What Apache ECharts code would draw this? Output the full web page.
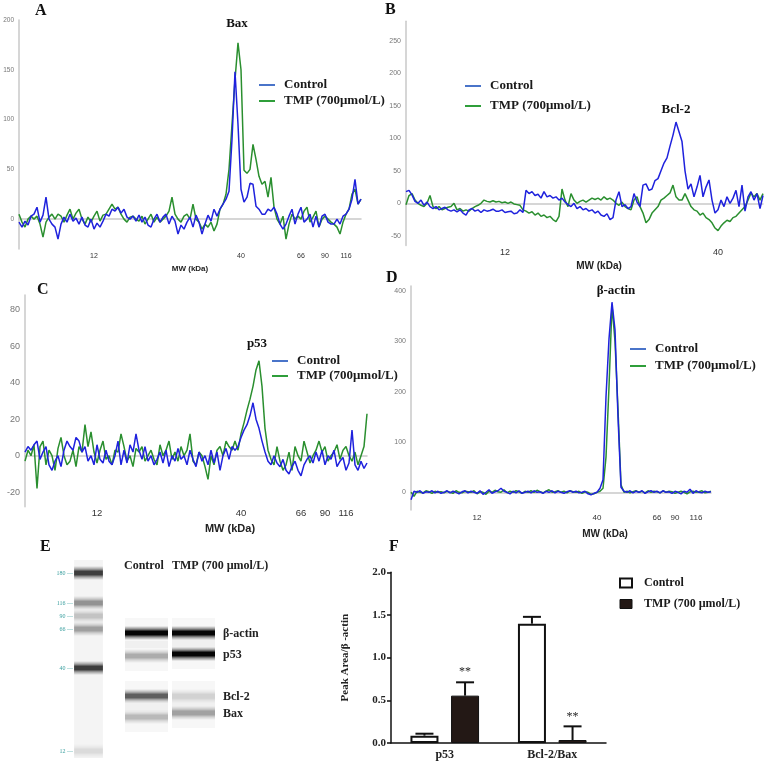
<!DOCTYPE html>
<html><head><meta charset="utf-8">
<script src="https://cdn.jsdelivr.net/npm/echarts@6/dist/echarts.min.js"></script>
<style>html,body{margin:0;padding:0;background:#fff}#c1,#c2{position:absolute;left:0;top:0;width:766px;height:766px}</style>
</head><body><div id="c1"></div><div id="c2"></div>
<script>
// ---------- DATA ----------
const seriesNames = ['Control', 'TMP (700μmol/L)'];
const mwTicks = ['12', '40', '66', '90', '116'];
const bTicks = ['12', '40'];
const aTickIdx = [25, 74, 94, 102, 109];
const bTickIdx = [33, 104];
const cTickIdx = [24, 72, 92, 100, 107];
const dTickIdx = [22, 62, 82, 88, 95];
const peakLabels = ['Bax', 'Bcl-2', 'p53', 'β-actin'];

const aControl = [-3,-8,-2,-6,3,5,12,-3,4,22,
 0,-5,-8,-20,-5,2,-3,5,-2,1,
 -5,2,-6,-8,0,-10,-4,-8,-2,5,
 3,10,8,12,6,10,2,0,3,-2,
 4,-3,2,-6,-8,0,5,-3,2,5,
 -5,3,-2,-15,-6,-10,-3,2,-8,4,
 -3,-15,-5,4,-2,10,3,10,15,20,
 28,80,148,95,30,17,22,36,35,13,
 10,5,5,10,8,12,5,-5,-10,-5,
 3,10,-5,5,12,-3,0,5,-8,3,
 -8,3,5,-3,-5,-5,0,-5,3,5,
 10,20,40,15,20];
const aTMP = [5,-3,-8,0,3,0,3,-5,-18,-3,
 2,5,0,5,3,-3,4,10,0,6,
 10,0,-5,2,-3,3,8,-2,4,5,
 10,15,10,12,5,0,-3,2,3,0,
 -2,3,-5,0,5,-3,2,-3,0,3,
 8,22,5,0,-3,3,5,0,15,0,
 -3,-10,-5,-8,-3,-12,-5,10,15,25,
 50,95,140,177,150,49,46,50,75,60,
 43,35,38,22,42,12,0,-5,3,-20,
 -5,5,0,3,0,8,12,-3,2,8,
 -8,0,3,0,-3,-5,-8,-15,-3,5,
 10,25,30,15,20];

const bControl = [18,20,13,3,0,5,-3,2,-5,-8,
 -5,-10,-8,-6,-10,-12,-10,-13,-10,-15,
 -18,-10,-8,-12,-10,-14,-10,-12,-11,-9,
 -12,-12,-10,-14,-13,-12,-16,-15,-10,-14,
 20,15,18,12,14,8,18,10,12,8,
 10,5,8,2,-2,-5,0,-8,-5,-10,
 -8,-12,-10,-15,-12,-18,-20,-16,-25,-22,
 5,18,-5,-2,-8,-5,15,2,-5,28,
 30,20,22,35,38,50,62,70,88,105,
 125,110,95,50,22,30,10,25,43,10,
 25,36,5,-15,-10,5,-5,10,0,8,
 20,-5,28,-12,10,18,5,15,-8,12];
const bTMP = [-2,12,15,5,0,-3,-5,0,12,-5,
 -8,-5,-10,-8,-6,-5,0,-10,-8,-12,
 -10,-12,-8,-5,-3,0,5,3,2,4,
 2,3,1,2,0,2,-1,-2,-3,-10,
 -12,-15,-13,-18,-15,-20,-18,-22,-20,-25,
 -28,-20,22,5,-5,15,5,0,3,5,
 2,5,8,6,8,5,10,6,8,5,
 0,-3,2,-5,-8,-10,5,10,-5,-15,
 -30,-25,-15,-10,-5,5,8,12,16,28,
 10,5,5,15,5,-5,-10,-12,-18,-15,
 -22,-25,-30,-38,-42,-35,-30,-26,-28,-22,
 -20,-15,-10,-5,5,16,10,15,5,15];

const cControl = [2,5,3,6,8,-2,2,5,-5,-8,
 -3,0,-6,3,8,5,3,10,8,2,
 5,-3,0,-5,6,-2,-4,3,-3,-5,
 0,8,-5,3,-4,6,2,12,3,-2,
 5,-3,0,-5,-2,2,-4,3,-6,0,
 -3,4,-2,0,-5,3,-2,-6,2,-3,
 0,-5,3,-4,2,-8,0,4,-2,5,
 3,5,10,14,17,22,29,20,15,8,
 2,-3,-5,0,-4,-6,-2,-8,-10,-6,
 -3,-8,-11,-5,-2,0,-4,2,-3,3,
 -5,0,-2,3,-6,-3,-1,-8,-4,14,
 -5,-8,-3,-7,-4];
const cTMP = [-3,3,0,6,-18,5,8,-5,3,0,
 -8,4,10,0,-5,-3,3,-6,5,2,
 17,5,13,2,-4,3,8,-2,0,-5,
 3,2,12,5,-3,0,-6,4,2,5,
 -3,0,3,-2,-5,6,0,3,8,-2,
 2,-3,5,0,3,12,-3,-5,2,0,
 -6,-13,0,-5,3,5,0,8,5,3,
 8,3,12,18,25,31,38,47,52,38,
 15,3,-2,-5,5,-3,-8,-5,2,-8,
 5,0,-3,8,2,-4,0,3,8,2,
 5,-3,0,2,6,-2,3,5,0,-3,
 2,-5,0,5,23];

const dControl = [-15,2,0,3,-2,1,0,3,-1,2,
 -2,0,3,-1,2,0,-3,1,3,-1,
 2,0,-2,3,-4,0,5,-2,1,3,
 8,2,0,-3,2,-1,3,-2,0,2,
 -1,3,0,1,-2,2,0,3,-1,2,
 0,-2,1,3,0,2,-1,0,2,-3,
 -5,-2,0,8,25,190,305,378,323,150,
 10,2,0,3,-1,2,0,3,-2,1,
 3,0,2,-1,3,0,1,-2,2,0,
 -3,2,0,6,-2,3,0,-1,2,0,
 1];
const dTMP = [0,-8,2,0,-1,3,1,-2,2,0,
 1,-1,2,0,-2,3,0,-1,2,1,
 0,3,-3,1,0,-4,2,0,4,1,
 0,5,-1,2,0,3,1,-2,2,0,
 3,0,4,1,-1,2,5,0,1,3,
 0,2,-1,3,1,0,2,-2,1,0,
 -4,-3,0,2,8,70,210,372,300,165,
 15,0,2,-1,1,3,0,2,-1,3,
 0,2,1,-1,3,0,2,1,-2,0,
 2,0,-3,1,2,0,1,3,-1,0,
 2];

// Gel (panel E)
const gelLanes = ['Control', 'TMP (700 µmol/L)'];
const gelLadderKDa = ['180', '116', '90', '66', '40', '12'];
const gelLadderPos = [15, 45, 58, 71, 110, 193];
const gelLadderDensity = [0.75, 0.4, 0.2, 0.35, 0.75, 0.1];
const gelTargets = ['β-actin', 'p53', 'Bcl-2', 'Bax'];
const gelPosControl = [75, 98, 138, 159];
const gelPosTMP = [75, 96, 138, 155];
const gelDensityControl = [0.98, 0.3, 0.62, 0.25];
const gelDensityTMP = [0.98, 0.98, 0.15, 0.35];

// Bars (panel F)
const fCategories = ['p53', 'Bcl-2/Bax'];
const fNames = ['Control', 'TMP (700 µmol/L)'];
const fControl = [0.086, 1.398];
const fControlErr = [0.023, 0.08];
const fTMP = [0.555, 0.035];
const fTMPErr = [0.156, 0.16];
const fTMPSig = ['**', '**'];

// ---------- CHART 1 : panels A-D ----------
const BLUE = '#1f22dd', GREEN = '#2a8f2f';
const serif = 'Liberation Serif', sans = 'Liberation Sans';
const panels = [
  {t:'A', tp:[35,3], ctrl:aControl, tmp:aTMP, ticks:mwTicks, idx:aTickIdx, peak:0, peakOn:1, peakOff:[-1,-19],
   grid:{left:19, top:20, width:342, height:229}, y:[-30,200,10,50], yFont:6.5, xFont:7, nFont:8, nGap:16, nPad:0, xM:4,
   lg:{left:259, top:78, gap:2}},
  {t:'B', tp:[385,2], ctrl:bControl, tmp:bTMP, ticks:bTicks, idx:bTickIdx, peak:1, peakOn:0, peakOff:[0,-12],
   grid:{left:406, top:21.3, width:357, height:224.3}, y:[-65,280,5,50], yFont:7, xFont:9, nFont:10, nGap:16, nPad:29, xM:2,
   lg:{left:465, top:79, gap:6}},
  {t:'C', tp:[37,282], ctrl:cControl, tmp:cTMP, ticks:mwTicks, idx:cTickIdx, peak:2, peakOn:1, peakOff:[-2,-17],
   grid:{left:25, top:295.1, width:342, height:211.7}, y:[-28,88,4,20], yFont:9, xFont:9.5, nFont:11, nGap:17, nPad:68, xM:2,
   lg:{left:272, top:354, gap:1}},
  {t:'D', tp:[386,270], ctrl:dControl, tmp:dTMP, ticks:mwTicks, idx:dTickIdx, peak:3, peakOn:0, peakOff:[4,-12],
   grid:{left:411, top:286.1, width:300, height:223.8}, y:[-35,410,5,100], yFont:7, xFont:8, nFont:10, nGap:19, nPad:88, xM:4,
   lg:{left:630, top:342, gap:3}}
];

const opt1 = {animation:false, backgroundColor:'#fff', title:[], grid:[], xAxis:[], yAxis:[], series:[], legend:[]};
panels.forEach((p, k) => {
  opt1.title.push({text:p.t, left:p.tp[0], top:p.tp[1], padding:0,
    textStyle:{fontFamily:serif, fontWeight:'bold', fontSize:16, color:'#111'}});
  opt1.grid.push(Object.assign({containLabel:false}, p.grid));
  const n = p.ctrl.length;
  const labelMap = {};
  p.idx.forEach((ix, j) => { labelMap[ix] = p.ticks[j]; });
  opt1.xAxis.push({type:'category', gridIndex:k, boundaryGap:false,
    data: Array.from({length:n}, (_, i) => String(i)),
    axisLine:{lineStyle:{color:'#c9c9c9', width:1.5}}, axisTick:{show:false}, splitLine:{show:false},
    axisLabel:{interval:0, margin:p.xM, fontSize:p.xFont, color:'#333', fontFamily:sans,
      formatter:(v, i) => labelMap[i] || ''},
    name:'MW (kDa)', nameLocation:'middle', nameGap:p.nGap,
    nameTextStyle:{fontFamily:sans, fontWeight:'bold', fontSize:p.nFont, color:'#222', padding:[0,0,0,p.nPad]}});
  opt1.yAxis.push({type:'value', gridIndex:k, min:p.y[0], max:p.y[1], interval:p.y[2],
    axisLine:{show:true, lineStyle:{color:'#c9c9c9', width:1.5}}, axisTick:{show:false}, splitLine:{show:false},
    axisLabel:{margin:5, fontSize:p.yFont, color:'#777', fontFamily:sans,
      formatter:v => (Math.round(v) % p.y[3] === 0 ? String(Math.round(v)) : '')}});
  const mk = {symbol:'circle', symbolSize:0, silent:true,
    data:[{type:'max', name:'peak'}],
    label:{show:true, position:'inside', offset:p.peakOff, formatter:peakLabels[p.peak],
      fontFamily:serif, fontWeight:'bold', fontSize:13, color:'#111'}};
  opt1.series.push({type:'line', name:seriesNames[1], xAxisIndex:k, yAxisIndex:k, data:p.tmp,
    symbol:'none', showSymbol:false, color:GREEN, lineStyle:{width:1.5, color:GREEN},
    markPoint: p.peakOn === 1 ? mk : undefined});
  opt1.series.push({type:'line', name:seriesNames[0], xAxisIndex:k, yAxisIndex:k, data:p.ctrl,
    symbol:'none', showSymbol:false, color:BLUE, lineStyle:{width:1.5, color:BLUE},
    markPoint: p.peakOn === 0 ? mk : undefined});
  opt1.legend.push({orient:'vertical', left:p.lg.left, top:p.lg.top, itemGap:p.lg.gap, padding:0,
    icon:'rect', itemWidth:16, itemHeight:2, selectedMode:false,
    data:[{name:seriesNames[0], itemStyle:{color:'#4a74c9'}}, {name:seriesNames[1], itemStyle:{color:'#2f9e3a'}}],
    textStyle:{fontFamily:serif, fontWeight:'bold', fontSize:13, lineHeight:14, color:'#1a1a1a', padding:[0,0,0,4]}});
});
echarts.init(document.getElementById('c1'), null, {renderer:'canvas'}).setOption(opt1);

// ---------- CHART 2 : panels E, F ----------
const BAR_W = 28, BAR_GAP = 0.45;
function bandShape(cx, cy, w, d) {
  return {type:'rect', shape:{x:cx - w/2, y:cy - 7, width:w, height:14},
    style:{fill:new echarts.graphic.LinearGradient(0,0,0,1,[
      {offset:0, color:'rgba(0,0,0,0)'},
      {offset:0.22, color:'rgba(0,0,0,' + (d*0.45) + ')'},
      {offset:0.38, color:'rgba(0,0,0,' + d + ')'},
      {offset:0.62, color:'rgba(0,0,0,' + d + ')'},
      {offset:0.78, color:'rgba(0,0,0,' + (d*0.45) + ')'},
      {offset:1, color:'rgba(0,0,0,0)'}])}};
}
const ladderData = gelLadderPos.map((p, i) => [0, p, gelLadderDensity[i]]);
const laneData = [];
gelTargets.forEach((t, i) => {
  laneData.push([0, gelPosControl[i], gelDensityControl[i], i]);
  laneData.push([1, gelPosTMP[i], gelDensityTMP[i], i]);
});

function errSeries(name, vals, errs, sign, sig) {
  return {type:'custom', name:name, xAxisIndex:2, yAxisIndex:2, z:5,
    data: vals.map((v, i) => [i, v, errs[i]]),
    renderItem:(params, api) => {
      const cat = api.value(0), mean = api.value(1), err = api.value(2);
      const base = api.coord([cat, mean]), top = api.coord([cat, mean + err]);
      const x = base[0] + sign * BAR_W * (1 + BAR_GAP) / 2;
      const ch = [
        {type:'line', shape:{x1:x, y1:base[1], x2:x, y2:top[1]}, style:{stroke:'#111', lineWidth:2}},
        {type:'line', shape:{x1:x - 9, y1:top[1], x2:x + 9, y2:top[1]}, style:{stroke:'#111', lineWidth:2}}];
      if (sig && sig[params.dataIndex]) {
        ch.push({type:'text', style:{text:sig[params.dataIndex], x:x, y:top[1] - 4, align:'center', verticalAlign:'bottom',
          font:'12px "Liberation Serif"', fill:'#222'}});
      }
      return {type:'group', children:ch};
    }};
}

const opt2 = {
  animation:false,
  title:[
    {text:'E', left:40, top:539, padding:0, textStyle:{fontFamily:serif, fontWeight:'bold', fontSize:16, color:'#111'}},
    {text:'F', left:389, top:539, padding:0, textStyle:{fontFamily:serif, fontWeight:'bold', fontSize:16, color:'#111'}}
  ],
  graphic:[
    {type:'text', left:124, top:560, style:{text:gelLanes[0], font:'bold 12px "Liberation Serif"', fill:'#222'}},
    {type:'text', left:172, top:560, style:{text:gelLanes[1], font:'bold 12px "Liberation Serif"', fill:'#222'}}
  ],
  grid:[
    {left:70, top:558, width:37, height:200},
    {left:123, top:558, width:94, height:200},
    {left:391, top:572.3, width:215, height:170.7}
  ],
  xAxis:[
    {type:'category', gridIndex:0, data:['Ladder'], show:false},
    {type:'category', gridIndex:1, data:gelLanes, show:false},
    {type:'category', gridIndex:2, data:fCategories,
      axisLine:{lineStyle:{color:'#111', width:1.5}},
      axisTick:{alignWithLabel:true, length:4, lineStyle:{color:'#111', width:1.5}},
      axisLabel:{margin:6, fontFamily:serif, fontWeight:'bold', fontSize:12, color:'#222'}}
  ],
  yAxis:[
    {type:'value', gridIndex:0, min:0, max:200, inverse:true, show:false},
    {type:'value', gridIndex:1, min:0, max:200, inverse:true, show:false},
    {type:'value', gridIndex:2, min:0, max:2, interval:0.5,
      name:'Peak Area/β -actin', nameLocation:'middle', nameGap:40,
      nameTextStyle:{fontFamily:serif, fontWeight:'bold', fontSize:11, color:'#222'},
      axisLine:{show:true, lineStyle:{color:'#111', width:1.5}},
      axisTick:{show:true, length:4, lineStyle:{color:'#111', width:1.5}},
      splitLine:{show:false},
      axisLabel:{margin:5, fontFamily:serif, fontWeight:'bold', fontSize:11, color:'#222', formatter:v => v.toFixed(1)}}
  ],
  legend:{orient:'vertical', left:619, top:576, itemGap:7, padding:0, itemWidth:12, itemHeight:9, selectedMode:false,
    data:[
      {name:fNames[0], icon:'rect', itemStyle:{color:'#fff', borderColor:'#111', borderWidth:2}},
      {name:fNames[1], icon:'rect', itemStyle:{color:'#231815', borderColor:'#111', borderWidth:1}}],
    textStyle:{fontFamily:serif, fontWeight:'bold', fontSize:12, lineHeight:14, color:'#1a1a1a', padding:[0,0,0,7]}},
  series:[
    {type:'custom', name:'ladder', xAxisIndex:0, yAxisIndex:0, data:ladderData,
      renderItem:(params, api) => {
        const c = api.coord([api.value(0), api.value(1)]);
        const w = api.size([1, 0])[0] * 0.78;
        const cs = params.coordSys;
        const ch = [];
        if (params.dataIndex === 0) {
          ch.push({type:'rect', shape:{x:c[0] - w/2, y:cs.y + 2, width:w, height:cs.height - 2},
            style:{fill:'rgba(0,0,0,0.045)'}});
        }
        ch.push(bandShape(c[0], c[1], w, api.value(2)));
        ch.push({type:'text', style:{text:gelLadderKDa[params.dataIndex] + ' —', x:c[0] - w/2 - 1, y:c[1],
          align:'right', verticalAlign:'middle', font:'6px "Liberation Serif"', fill:'#3a9f9f'}});
        return {type:'group', children:ch};
      }},
    {type:'custom', name:'lanes', xAxisIndex:1, yAxisIndex:1, data:laneData,
      renderItem:(params, api) => {
        const lane = api.value(0);
        const c = api.coord([lane, api.value(1)]);
        const w = api.size([1, 0])[0] * 0.915;
        const ch = [
          {type:'rect', shape:{x:c[0] - w/2, y:c[1] - 15, width:w, height:30}, style:{fill:'rgba(0,0,0,0.03)'}},
          bandShape(c[0], c[1], w, api.value(2))];
        if (lane === 1) {
          ch.push({type:'text', style:{text:gelTargets[api.value(3)], x:c[0] + w/2 + 8, y:c[1] + 1,
            align:'left', verticalAlign:'middle', font:'bold 12px "Liberation Serif"', fill:'#222'}});
        }
        return {type:'group', children:ch};
      }},
    {type:'bar', name:fNames[0], xAxisIndex:2, yAxisIndex:2, data:fControl, barWidth:BAR_W, barGap:(BAR_GAP*100) + '%',
      itemStyle:{color:'#fff', borderColor:'#111', borderWidth:2}},
    {type:'bar', name:fNames[1], xAxisIndex:2, yAxisIndex:2, data:fTMP, barWidth:BAR_W,
      itemStyle:{color:'#231815', borderColor:'#111', borderWidth:1}},
    errSeries('ctrlErr', fControl, fControlErr, -1, null),
    errSeries('tmpErr', fTMP, fTMPErr, 1, fTMPSig)
  ]
};
echarts.init(document.getElementById('c2'), null, {renderer:'canvas'}).setOption(opt2);
</script></body></html>
